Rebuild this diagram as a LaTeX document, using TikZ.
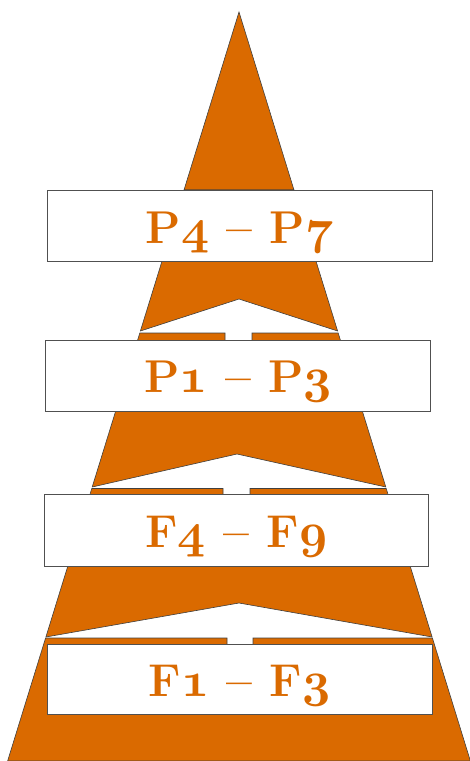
\documentclass[tikz,border=0pt]{standalone}
\usepackage{tikz}
\definecolor{tierorange}{RGB}{218,106,0}
\definecolor{edgegray}{RGB}{80,80,80}
\font\osfont=cmmib10 at 49pt
\newcommand{\osnum}[1]{{\osfont #1}}

\begin{document}
\begin{tikzpicture}[x=1pt,y=-1pt,
  tier/.style={fill=tierorange,draw=edgegray!80!black,line width=0.6pt},
  band/.style={draw=edgegray,fill=white,line width=0.8pt,inner sep=0pt,
    minimum width=385pt,minimum height=71pt,text height=34pt,text depth=0pt,
    font=\fontsize{46}{50}\selectfont\bfseries,text=tierorange}]
  \useasboundingbox (0,0) rectangle (470,761);
  % pyramid tiers, top to bottom
  \draw[tier] (239,12) -- (184,190) -- (294,190) -- cycle;
  \draw[tier] (184,190) -- (140.4,331) -- (239,299) -- (337.6,331) -- (294,190) -- cycle;
  \draw[tier] (139.8,333) -- (225,333) -- (225,346) -- (252,346) -- (252,333) -- (338.2,333)
    -- (385.8,487) -- (237,454) -- (92.2,487) -- cycle;
  \draw[tier] (91.8,488.5) -- (223,488.5) -- (223,500) -- (250,500) -- (250,488.5) -- (386.2,488.5)
    -- (432.1,637) -- (239,603) -- (45.9,637) -- cycle;
  \draw[tier] (45.6,638) -- (227,638) -- (227,650) -- (253,650) -- (253,638) -- (432.4,638)
    -- (470.4,761) -- (7.6,761) -- cycle;
  % labels
  \node[band] (p47) at (239.5,226) {P\osnum{4} -- P\osnum{7}};
  \node[band,minimum width=384.6pt,minimum height=70.7pt] (p13) at (238,375.7) {P\osnum{1} -- P\osnum{3}};
  \node[band,minimum width=384pt,minimum height=71.3pt] (f49) at (236.3,530.3) {F\osnum{4} -- F\osnum{9}};
  \node[band,minimum height=70.5pt] (f13) at (239.8,679.3) {F\osnum{1} -- F\osnum{3}};
\end{tikzpicture}
\end{document}
